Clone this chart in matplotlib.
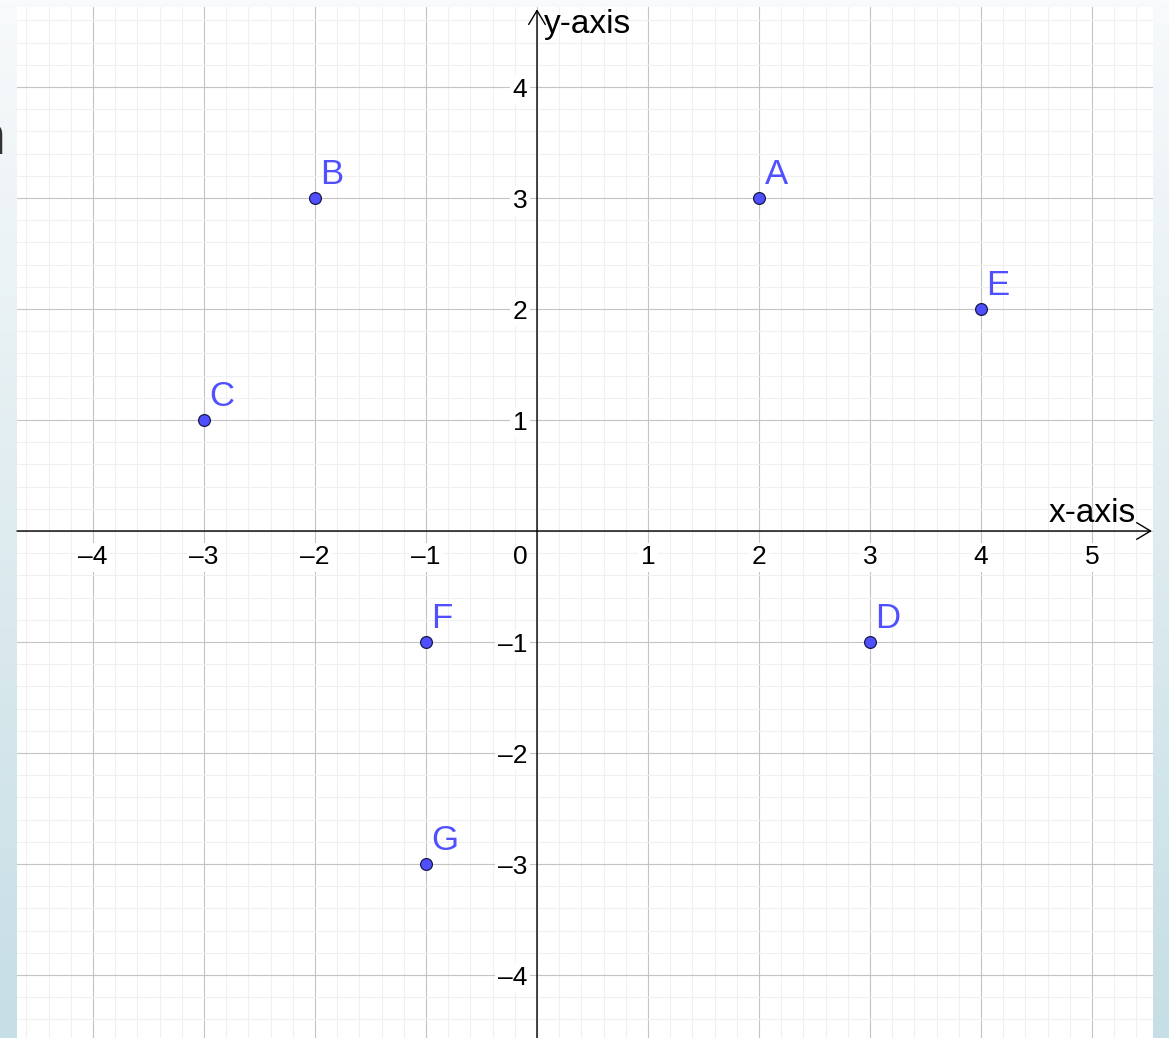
import numpy as np
import matplotlib.pyplot as plt
from matplotlib.ticker import MultipleLocator
from matplotlib.colors import LinearSegmentedColormap

# points on the plane
names = ['A', 'B', 'C', 'D', 'E', 'F', 'G']
xs = [2, -2, -3, 3, 4, -1, -1]
ys = [3, 3, 1, -1, 2, -1, -3]

x_ticks = [-4, -3, -2, -1, 1, 2, 3, 4, 5]
y_ticks = [-4, -3, -2, -1, 1, 2, 3, 4]

plt.rcParams['font.family'] = ['Liberation Sans', 'DejaVu Sans']

W, H = 1169, 1038
fig = plt.figure(figsize=(W / 100, H / 100), dpi=100)

# pale blue gradient behind everything
bg = fig.add_axes([0, 0, 1, 1], zorder=-5)
cmap = LinearSegmentedColormap.from_list('bg', ['#f8fafb', '#c6dee5'])
bg.imshow(np.linspace(0, 1, 256).reshape(-1, 1), aspect='auto', cmap=cmap,
          extent=[0, 1, 0, 1])
bg.axis('off')
fig.text(5 / W, 1 - 140 / H, 'n', ha='right', va='center', fontsize=40, color='#333333')

left, right, top, bottom = 17, 1153, 7, 1038
ax = fig.add_axes([left / W, 1 - bottom / H, (right - left) / W, (bottom - top) / H])
ax.set_facecolor('white')

unit = 111.0
ox, oy = 537, 531
ax.set_xlim((left - ox) / unit, (right - ox) / unit)
ax.set_ylim((oy - bottom) / unit, (oy - top) / unit)

ax.xaxis.set_major_locator(MultipleLocator(1))
ax.yaxis.set_major_locator(MultipleLocator(1))
ax.xaxis.set_minor_locator(MultipleLocator(0.2))
ax.yaxis.set_minor_locator(MultipleLocator(0.2))
ax.grid(which='minor', color='#f0f0f0', lw=0.8, zorder=0)
ax.grid(which='major', color='#c4c4c4', lw=0.8, zorder=0)
ax.set_axisbelow(True)
ax.tick_params(which='both', length=0, labelbottom=False, labelleft=False)
for s in ax.spines.values():
    s.set_visible(False)

xmin, xmax = ax.get_xlim()
ymin, ymax = ax.get_ylim()

# axes with open arrow heads
arrow = dict(arrowstyle='->, head_length=0.5, head_width=0.3', lw=1.0, color='black',
             mutation_scale=20, shrinkA=0, shrinkB=0)
ax.annotate('', xy=(xmax - 0.01, 0), xytext=(xmin, 0), arrowprops=arrow,
            annotation_clip=False, zorder=3)
ax.annotate('', xy=(0, ymax - 0.02), xytext=(0, ymin), arrowprops=arrow,
            annotation_clip=False, zorder=3)

ax.text(xmax - 0.15, 0.02, 'x-axis', ha='right', va='bottom', fontsize=24)
ax.text(0.06, ymax - 0.02, 'y-axis', ha='left', va='top', fontsize=24)

box = dict(boxstyle='square,pad=0.1', fc='white', ec='none')
for t in x_ticks:
    ax.annotate('\u2013' + str(-t) if t < 0 else str(t), (t, 0), xytext=(0, -19),
                textcoords='offset points', ha='center', va='center',
                fontsize=19, bbox=box, zorder=2)
for t in y_ticks:
    ax.annotate('\u2013' + str(-t) if t < 0 else str(t), (0, t), xytext=(-7, -2),
                textcoords='offset points', ha='right', va='center',
                fontsize=19, bbox=box, zorder=2)
ax.annotate('0', (0, 0), xytext=(-7, -19), textcoords='offset points',
            ha='right', va='center', fontsize=19, zorder=2)

ax.plot(xs, ys, 'o', ms=8.5, mfc='#4f4fff', mec='#1a1a4a', mew=0.9, zorder=4)
for n, x, y in zip(names, xs, ys):
    ax.annotate(n, (x, y), xytext=(4, 5), textcoords='offset points',
                ha='left', va='bottom', fontsize=25, color='#5050ff', zorder=4)

fig.savefig('out.png', dpi=100)
